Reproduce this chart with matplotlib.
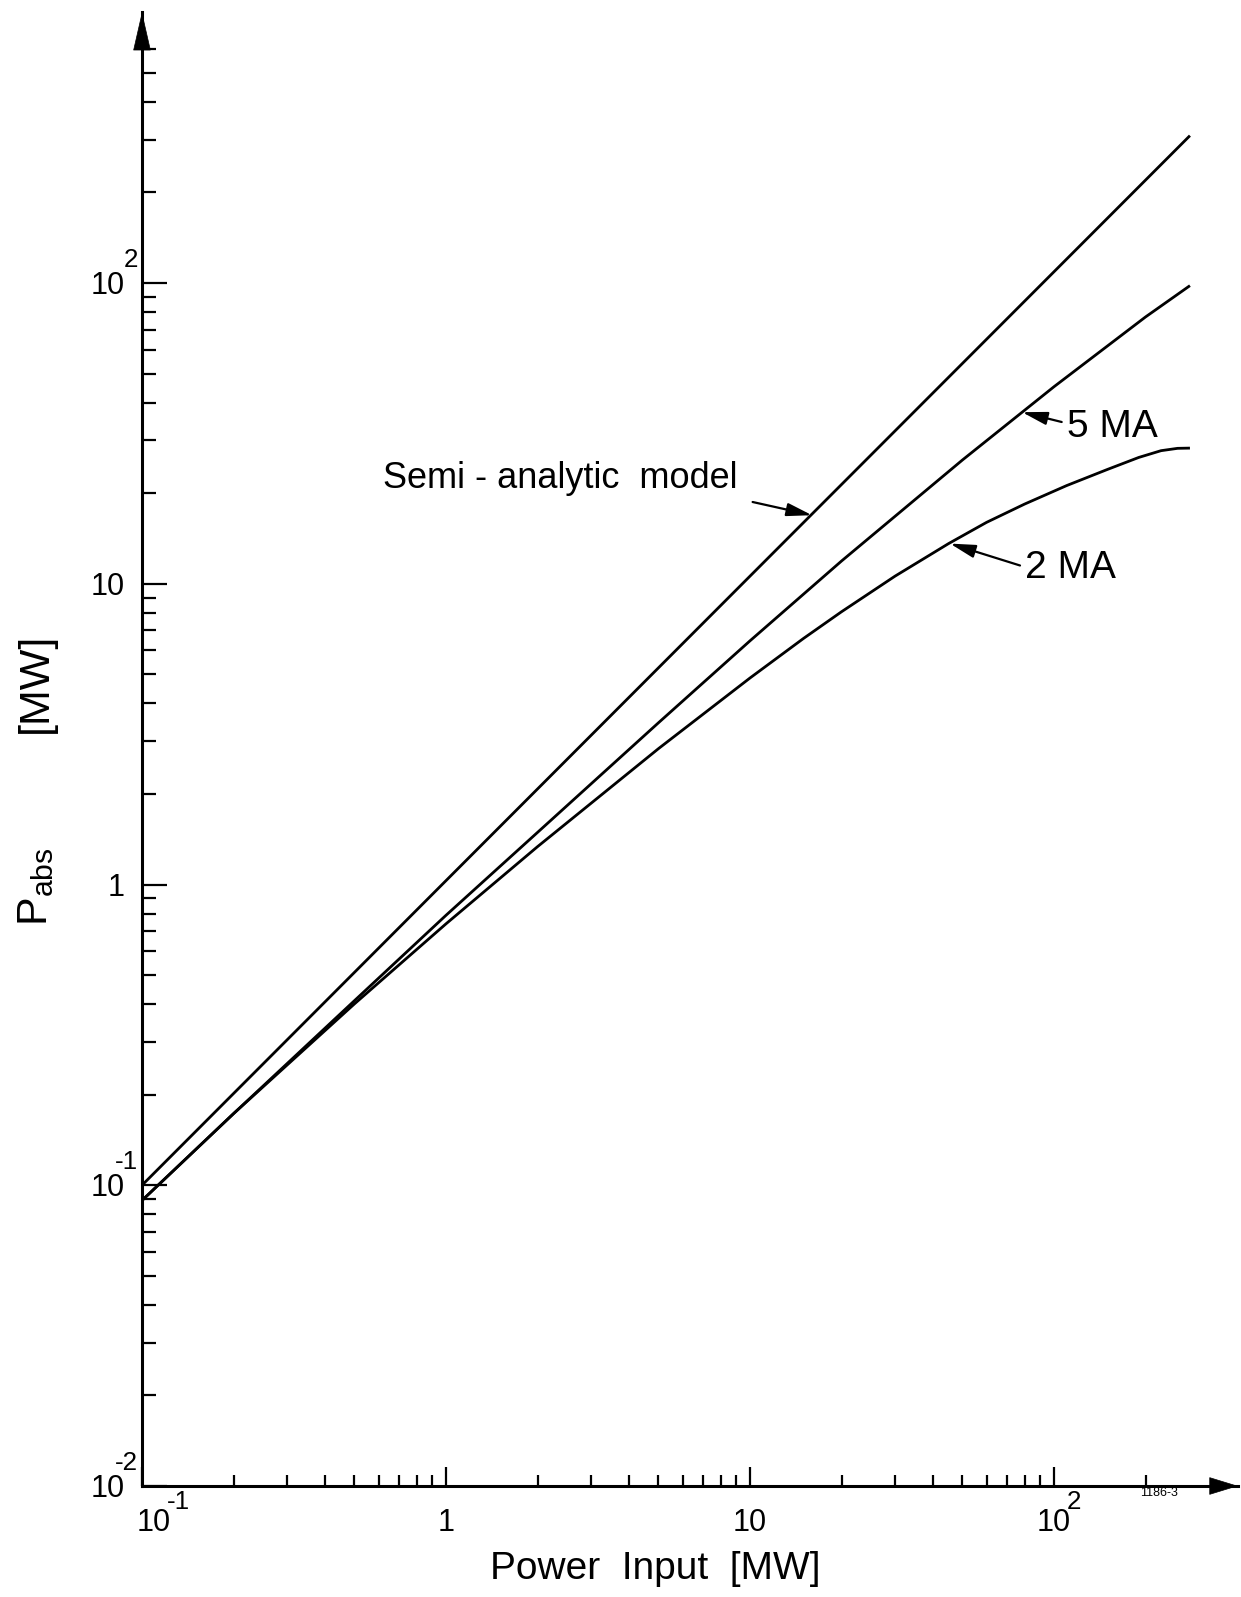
import matplotlib
matplotlib.use("Agg")
import matplotlib.pyplot as plt
from matplotlib.ticker import FixedLocator, NullFormatter
from matplotlib.patches import ArrowStyle
import matplotlib.transforms as mtransforms

plt.rcParams['font.family'] = ['Liberation Sans', 'DejaVu Sans']
plt.rcParams['mathtext.fontset'] = 'custom'
plt.rcParams['mathtext.rm'] = 'Liberation Sans'
plt.rcParams['mathtext.it'] = 'Liberation Sans'

# ---- data ----
semi_x = [0.1, 1, 10, 100, 280]
semi_y = [0.1, 1.03, 10.6, 109, 309]

ma5_x = [0.1, 0.2, 0.5, 1, 2, 5, 10, 20, 50, 100, 200, 280]
ma5_y = [0.089, 0.173, 0.411, 0.79, 1.49, 3.45, 6.46, 11.9, 25.8, 45.2, 77.1, 98.0]

ma2_x = [0.1, 0.2, 0.5, 1, 2, 5, 10, 15, 20, 30, 45, 60, 80, 110, 150, 190,
         225, 255, 280]
ma2_y = [0.089, 0.173, 0.401, 0.74, 1.336, 2.83, 4.86, 6.58, 8.07, 10.6, 13.6,
         16.0, 18.4, 21.2, 24.0, 26.3, 27.7, 28.2, 28.25]

x_major = [0.1, 1, 10, 100]
x_major_base = ['10', '1', '10', '10']
x_major_exp = ['-1', '', '', '2']
x_minor = [0.2, 0.3, 0.4, 0.5, 0.6, 0.7, 0.8, 0.9,
           2, 3, 4, 5, 6, 7, 8, 9,
           20, 30, 40, 50, 60, 70, 80, 90, 200]

y_major = [0.01, 0.1, 1, 10, 100]
y_major_base = ['10', '10', '1', '10', '10']
y_major_exp = ['-2', '-1', '', '', '2']
y_minor = [0.02, 0.03, 0.04, 0.05, 0.06, 0.07, 0.08, 0.09,
           0.2, 0.3, 0.4, 0.5, 0.6, 0.7, 0.8, 0.9,
           2, 3, 4, 5, 6, 7, 8, 9,
           20, 30, 40, 50, 60, 70, 80, 90,
           200, 300, 400, 500, 600]

x_label = 'Power  Input  [MW]'
y_label_sym = r'P$_{\mathrm{abs}}$'
y_label_unit = '[MW]'

ann_texts = ['Semi - analytic  model', '5 MA', '2 MA']
ann_tips = [(16.0, 16.9), (78.5, 37.2), (45.5, 13.6)]
ann_tails = [(10.2, 18.7), (106, 34.5), (77.3, 11.5)]
ann_textpos = [(0.621, 20.8), (110, 30.7), (80.3, 10.45)]

# ---- figure ----
W, H = 1241, 1597
fig = plt.figure(figsize=(W / 100, H / 100), dpi=100)
x0, x1 = 142, 1238
y_bot, y_top = 1486, 12
ax = fig.add_axes([x0 / W, (H - y_bot) / H, (x1 - x0) / W, (y_bot - y_top) / H])
ax.set_xscale('log')
ax.set_yscale('log')
ax.set_xlim(0.1, 10 ** (-1 + (x1 - x0) / 304))
ax.set_ylim(0.01, 10 ** (-2 + (y_bot - y_top) / 300.75))

lw = 2.0
for xs, ys in [(semi_x, semi_y), (ma5_x, ma5_y), (ma2_x, ma2_y)]:
    ax.plot(xs, ys, color='black', lw=lw, solid_capstyle='butt',
            solid_joinstyle='round', clip_on=False)

for s in ['top', 'right']:
    ax.spines[s].set_visible(False)
for s in ['left', 'bottom']:
    ax.spines[s].set_linewidth(2.2)

ax.xaxis.set_major_locator(FixedLocator(x_major))
ax.xaxis.set_minor_locator(FixedLocator(x_minor))
ax.yaxis.set_major_locator(FixedLocator(y_major))
ax.yaxis.set_minor_locator(FixedLocator(y_minor))
ax.xaxis.set_minor_formatter(NullFormatter())
ax.yaxis.set_minor_formatter(NullFormatter())
ax.tick_params(axis='both', which='both', direction='in', labelbottom=False,
               labelleft=False, width=1.6, color='black')
ax.tick_params(axis='x', which='major', length=14)
ax.tick_params(axis='x', which='minor', length=8)
ax.tick_params(axis='y', which='major', length=18)
ax.tick_params(axis='y', which='minor', length=10)

# arrow heads on axes
ah_x = ArrowStyle('-|>', head_length=0.78, head_width=0.24)
ax.annotate('', xy=(1.0, 0.0), xytext=(0.97, 0.0), xycoords='axes fraction',
            arrowprops=dict(arrowstyle=ah_x, mutation_scale=25, lw=0.5,
                            color='black', shrinkA=0, shrinkB=0))
ah_y = ArrowStyle('-|>', head_length=1.05, head_width=0.24)
ax.annotate('', xy=(0.0, 1.0), xytext=(0.0, 0.97), xycoords='axes fraction',
            arrowprops=dict(arrowstyle=ah_y, mutation_scale=25, lw=0.5,
                            color='black', shrinkA=0, shrinkB=0))

# tick labels (drawn manually to mimic large exponents)
fs_tick = 22
trx = mtransforms.blended_transform_factory(ax.transData, ax.transAxes)
for v, b, e in zip(x_major, x_major_base, x_major_exp):
    dx = 12 if v == 0.1 else 0
    ax.annotate(b, xy=(v, 0), xycoords=trx, xytext=(dx, -22), textcoords='offset pixels',
                ha='center', va='top', fontsize=fs_tick, annotation_clip=False)
    if e:
        ax.annotate(e, xy=(v, 0), xycoords=trx, xytext=(dx + 13, -28), textcoords='offset pixels',
                    ha='left', va='bottom', fontsize=fs_tick * 0.85, annotation_clip=False)

tr_y = mtransforms.blended_transform_factory(ax.transAxes, ax.transData)
for v, b, e in zip(y_major, y_major_base, y_major_exp):
    ax.annotate(b, xy=(0, v), xycoords=tr_y, xytext=(-17, -3), textcoords='offset pixels',
                ha='right', va='center', fontsize=fs_tick, annotation_clip=False)
    if e:
        ax.annotate(e, xy=(0, v), xycoords=tr_y, xytext=(-4, 11), textcoords='offset pixels',
                    ha='right', va='bottom', fontsize=fs_tick * 0.85, annotation_clip=False)

# axis labels
fig.text(655 / W, 1 - 1569 / H, x_label, ha='center', va='center', fontsize=28)
fig.text(36 / W, 1 - 887 / H, y_label_sym, ha='center', va='center', rotation=90, fontsize=31)
fig.text(36 / W, 1 - 683 / H, y_label_unit, ha='center', va='center', rotation=90, fontsize=31)

# annotations
ah = ArrowStyle('-|>', head_length=0.85, head_width=0.22)
for t, tip, tail, tp in zip(ann_texts, ann_tips, ann_tails, ann_textpos):
    ax.annotate('', xy=tip, xytext=tail, xycoords='data',
                arrowprops=dict(arrowstyle=ah, mutation_scale=18, lw=1.6,
                                color='black', shrinkA=0, shrinkB=0))
    ax.text(tp[0], tp[1], t, ha='left', va='baseline', fontsize=26 if t.startswith('S') else 28)

fig.text(1140 / W, 1 - 1493 / H, '1186-3', ha='left', va='center', fontsize=9)

fig.savefig('out.png', dpi=100, facecolor='white')
